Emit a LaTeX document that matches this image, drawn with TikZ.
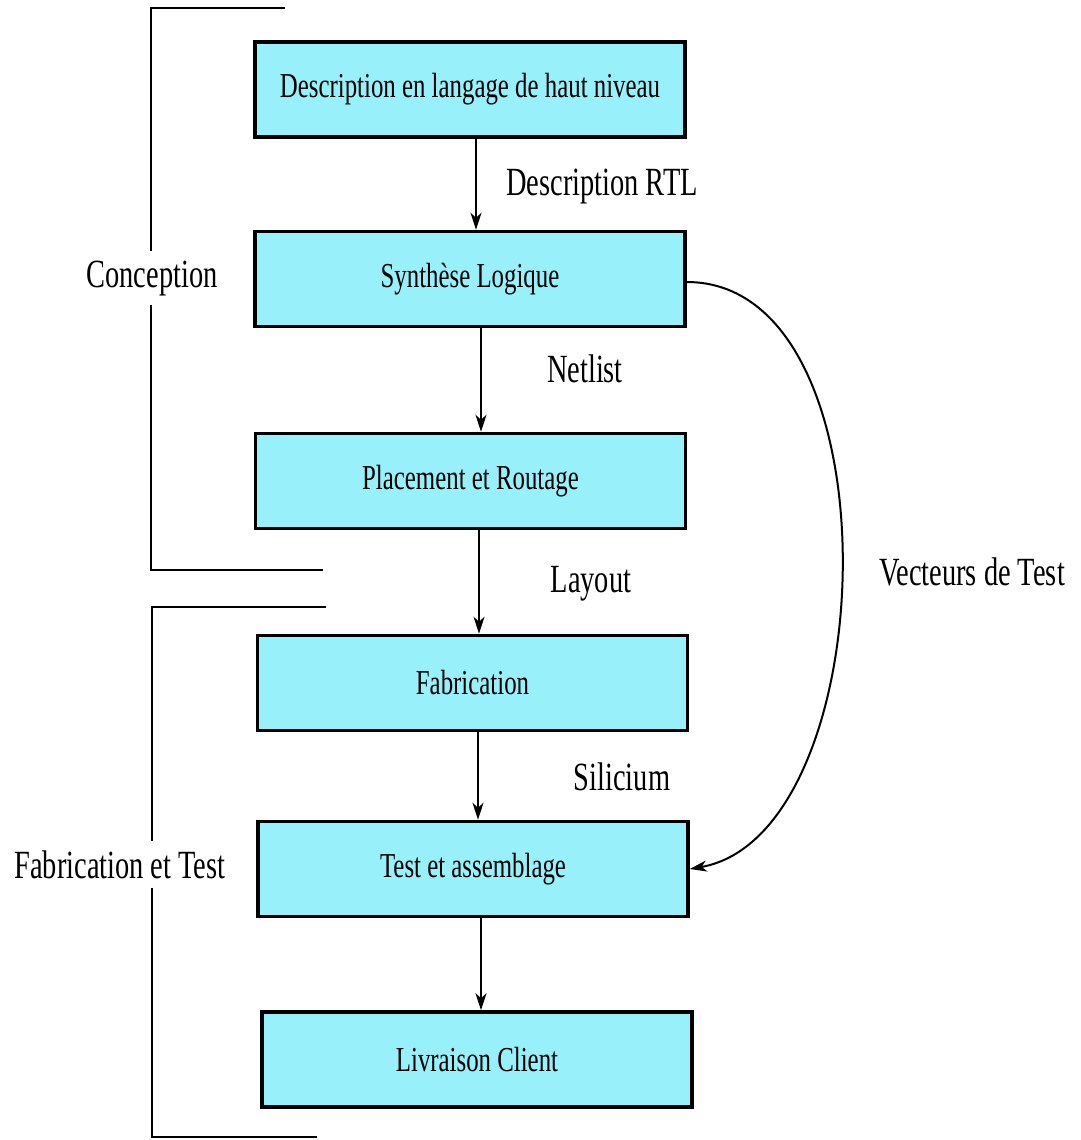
\documentclass[tikz,border=0pt]{standalone}
\usepackage{fontspec}
\setmainfont[FakeStretch=0.71]{Liberation Serif}
\usetikzlibrary{arrows.meta,positioning}
\usepackage{xcolor}
\definecolor{boxcyan}{HTML}{98F0FA}

\tikzset{
  etape/.style={draw, line width=3.5pt, fill=boxcyan, rectangle,
    minimum width=430pt, minimum height=95pt, inner sep=0pt,
    font=\fontsize{35}{40}\selectfont},
  lbl/.style={anchor=base, inner sep=0pt, font=\fontsize{40}{44}\selectfont},
  brk/.style={line width=2pt},
  fl/.style={line width=2pt, -{Stealth[length=17pt,width=11pt,inset=5pt]}}
}

\begin{document}
\begin{tikzpicture}[x=1pt, y=-1pt]
              \useasboundingbox (0,0) rectangle (1080,1140);
              % etapes du flot
              \node[etape] (desc) at (470,89.5) {Description en langage de haut niveau};
              \node[etape] (synth) at (470,279) {Synthèse Logique};
              \node[etape] (place) at (470.5,481) {Placement et Routage};
              \node[etape] (fab) at (472.5,683) {Fabrication};
              \node[etape] (test) at (473,869) {Test et assemblage};
              \node[etape] (livr) at (477,1059.5) {Livraison Client};
              % labels
              \node[lbl] (rtl) at (602,195) {Description RTL};
              \node[lbl] (netlist) at (585,382) {Netlist};
              \node[lbl] (layout) at (591,592) {Layout};
              \node[lbl] (silicium) at (622,790) {Silicium};
              \node[lbl] (vect) at (972,585) {Vecteurs de Test};
              \node[lbl, inner ysep=9pt] (concep) at (152,287) {Conception};
              \node[lbl, inner ysep=9pt] (fabtest) at (120,878) {Fabrication et Test};
              % fleches
              \draw[fl] ([xshift=6pt]desc.south) -- ([xshift=6pt]desc.south |- synth.north);
              \draw[fl] ([xshift=11pt]synth.south) -- ([xshift=11pt]synth.south |- place.north);
              \draw[fl] ([xshift=8.5pt]place.south) -- ([xshift=8.5pt]place.south |- fab.north);
              \draw[fl] ([xshift=5.5pt]fab.south) -- ([xshift=5.5pt]fab.south |- test.north);
              \draw[fl] ([xshift=8pt]test.south) -- ([xshift=8pt]test.south |- livr.north);
              \draw[fl] ([yshift=-3pt]synth.east) .. controls (900,282) and (885,835) .. (test.east);
              % accolades
              \coordinate (b1) at (151,0);
              \draw[brk] (285,8) -| (concep.north -| b1);
              \draw[brk] (concep.south -| b1) |- (323,570);
              \coordinate (b2) at (152,0);
              \draw[brk] (326,607) -| (fabtest.north -| b2);
              \draw[brk] (fabtest.south -| b2) |- (317,1137);
            \end{tikzpicture}
\end{document}
